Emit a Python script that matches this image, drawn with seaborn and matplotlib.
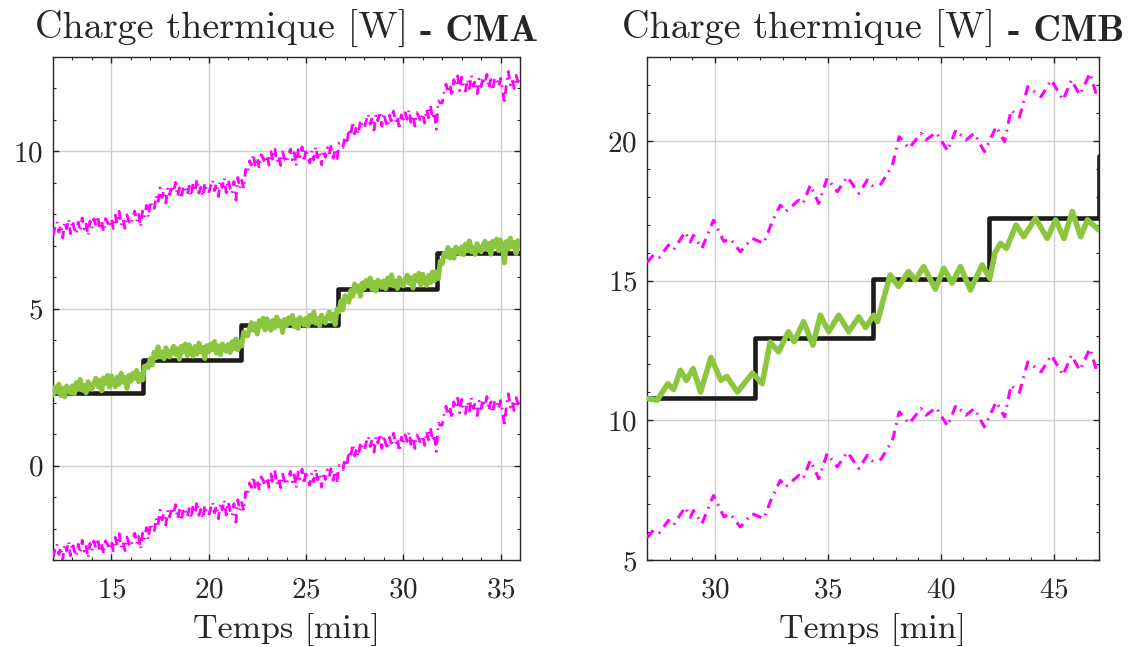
import numpy as np
import pandas as pd
import matplotlib
matplotlib.use("Agg")
import matplotlib.pyplot as plt
import seaborn as sns

# ---------------- DATA ----------------
# Left panel (CMA): time grid 12..36 min, 0.1 min sampling
cma_t = np.round(np.arange(12.0, 36.0001, 0.1), 2)

cma_estimate = [
    2.25, 2.50, 2.34, 2.59, 2.23, 2.46, 2.19, 2.53, 2.45, 2.31,
    2.54, 2.29, 2.64, 2.43, 2.74, 2.40, 2.55, 2.32, 2.67, 2.50,
    2.43, 2.63, 2.78, 2.52, 2.71, 2.38, 2.79, 2.62, 2.87, 2.50,
    2.86, 2.64, 2.51, 2.82, 2.59, 2.94, 2.66, 2.81, 2.46, 2.87,
    2.69, 2.94, 2.78, 3.03, 2.67, 2.90, 2.73, 3.16, 3.17, 3.12,
    3.40, 3.21, 3.61, 3.44, 3.78, 3.46, 3.62, 3.40, 3.75, 3.58,
    3.46, 3.66, 3.80, 3.54, 3.72, 3.39, 3.80, 3.62, 3.87, 3.50,
    3.84, 3.62, 3.48, 3.79, 3.55, 3.90, 3.62, 3.76, 3.41, 3.82,
    3.62, 3.87, 3.70, 3.95, 3.58, 3.81, 3.53, 3.87, 3.78, 3.64,
    3.85, 3.60, 3.94, 3.73, 4.03, 3.69, 3.93, 3.81, 4.25, 4.15,
    4.13, 4.37, 4.55, 4.31, 4.51, 4.19, 4.61, 4.44, 4.69, 4.32,
    4.67, 4.45, 4.31, 4.62, 4.39, 4.73, 4.45, 4.60, 4.24, 4.65,
    4.45, 4.70, 4.53, 4.78, 4.42, 4.64, 4.37, 4.71, 4.62, 4.48,
    4.69, 4.44, 4.78, 4.57, 4.88, 4.53, 4.68, 4.45, 4.79, 4.62,
    4.54, 4.74, 4.89, 4.63, 4.82, 4.49, 4.98, 4.90, 5.24, 4.96,
    5.40, 5.26, 5.20, 5.57, 5.39, 5.78, 5.54, 5.72, 5.39, 5.82,
    5.64, 5.89, 5.72, 5.97, 5.61, 5.83, 5.56, 5.90, 5.81, 5.67,
    5.88, 5.63, 5.97, 5.76, 6.07, 5.72, 5.87, 5.64, 5.98, 5.81,
    5.72, 5.92, 6.06, 5.80, 5.98, 5.65, 6.05, 5.88, 6.12, 5.75,
    6.09, 5.87, 5.74, 6.05, 5.82, 6.16, 5.88, 6.16, 5.95, 6.50,
    6.42, 6.75, 6.65, 6.94, 6.61, 6.86, 6.60, 6.95, 6.88, 6.74,
    6.96, 6.71, 7.05, 6.84, 7.15, 6.80, 6.95, 6.72, 7.06, 6.89,
    6.80, 7.00, 7.14, 6.88, 7.07, 6.73, 7.14, 6.97, 7.21, 6.84,
    7.18, 6.96, 6.45, 7.13, 6.90, 7.24, 6.96, 7.11, 6.75, 7.16,
    7.10,
]

cma_upper = [
    7.32, 7.57, 7.76, 7.43, 7.66, 7.25, 7.75, 7.54, 7.85, 7.38,
    7.80, 7.53, 7.36, 7.75, 7.46, 7.88, 7.53, 7.72, 7.31, 7.78,
    7.54, 7.85, 7.64, 7.95, 7.50, 7.78, 7.43, 7.86, 7.75, 7.58,
    7.85, 7.54, 7.97, 7.70, 8.09, 7.65, 7.84, 7.55, 7.98, 7.77,
    7.66, 7.91, 8.10, 7.77, 8.00, 7.59, 8.10, 7.90, 8.28, 7.90,
    8.42, 8.24, 8.14, 8.59, 8.36, 8.84, 8.53, 8.75, 8.36, 8.84,
    8.62, 8.92, 8.71, 9.01, 8.56, 8.84, 8.49, 8.91, 8.80, 8.62,
    8.89, 8.57, 9.00, 8.72, 9.11, 8.67, 8.86, 8.56, 8.99, 8.77,
    8.66, 8.90, 9.09, 8.75, 8.98, 8.56, 9.07, 8.85, 9.16, 8.68,
    9.10, 8.83, 8.65, 9.04, 8.45, 9.17, 8.81, 9.08, 8.81, 9.42,
    9.30, 9.70, 9.56, 9.91, 9.49, 9.80, 9.46, 9.89, 9.78, 9.61,
    9.88, 9.56, 9.99, 9.71, 10.10, 9.66, 9.85, 9.55, 9.98, 9.76,
    9.64, 9.88, 10.07, 9.73, 9.96, 9.54, 10.05, 9.83, 10.14, 9.66,
    10.08, 9.81, 9.63, 10.02, 9.73, 10.15, 9.80, 9.98, 9.57, 10.04,
    9.81, 10.12, 9.91, 10.22, 9.78, 10.08, 9.77, 10.26, 10.22, 10.12,
    10.46, 10.22, 10.71, 10.50, 10.94, 10.56, 10.79, 10.54, 11.00, 10.82,
    10.73, 10.99, 11.19, 10.86, 11.09, 10.68, 11.18, 10.97, 11.27, 10.80,
    11.22, 10.94, 10.77, 11.15, 10.86, 11.28, 10.93, 11.11, 10.70, 11.16,
    10.92, 11.23, 11.02, 11.32, 10.87, 11.15, 10.80, 11.23, 11.11, 10.94,
    11.21, 10.90, 11.34, 11.07, 11.47, 11.04, 11.24, 10.70, 11.61, 11.54,
    11.54, 11.88, 12.14, 11.86, 12.13, 11.75, 12.28, 12.08, 12.40, 11.93,
    12.36, 12.08, 11.91, 12.29, 12.00, 12.42, 12.07, 12.25, 11.84, 12.30,
    12.06, 12.36, 12.15, 12.45, 12.00, 12.28, 11.93, 12.35, 12.24, 12.06,
    12.32, 12.01, 11.50, 12.16, 12.54, 12.11, 12.29, 12.00, 12.42, 12.21,
    12.40,
]

cma_lower = [
    -2.93, -2.68, -2.49, -2.82, -2.59, -3.00, -2.50, -2.71, -2.40, -2.87,
    -2.45, -2.72, -2.89, -2.50, -2.79, -2.37, -2.72, -2.53, -2.94, -2.47,
    -2.71, -2.40, -2.61, -2.30, -2.75, -2.47, -2.82, -2.39, -2.50, -2.67,
    -2.40, -2.71, -2.28, -2.55, -2.16, -2.60, -2.41, -2.70, -2.27, -2.48,
    -2.59, -2.34, -2.15, -2.48, -2.25, -2.66, -2.15, -2.35, -1.97, -2.35,
    -1.83, -2.01, -2.11, -1.66, -1.89, -1.41, -1.72, -1.50, -1.89, -1.41,
    -1.63, -1.33, -1.54, -1.24, -1.69, -1.41, -1.76, -1.34, -1.45, -1.63,
    -1.36, -1.68, -1.25, -1.53, -1.14, -1.58, -1.39, -1.69, -1.26, -1.48,
    -1.59, -1.35, -1.16, -1.50, -1.27, -1.69, -1.18, -1.40, -1.09, -1.57,
    -1.15, -1.42, -1.60, -1.21, -1.80, -1.08, -1.44, -1.17, -1.44, -0.83,
    -0.95, -0.55, -0.69, -0.34, -0.76, -0.45, -0.79, -0.36, -0.47, -0.64,
    -0.37, -0.69, -0.26, -0.54, -0.15, -0.59, -0.40, -0.70, -0.27, -0.49,
    -0.61, -0.37, -0.18, -0.52, -0.29, -0.71, -0.20, -0.42, -0.11, -0.59,
    -0.17, -0.44, -0.62, -0.23, -0.52, -0.10, -0.45, -0.27, -0.68, -0.21,
    -0.44, -0.13, -0.34, -0.03, -0.47, -0.17, -0.48, 0.01, -0.03, -0.13,
    0.21, -0.03, 0.46, 0.25, 0.69, 0.31, 0.54, 0.29, 0.75, 0.57,
    0.48, 0.74, 0.94, 0.61, 0.84, 0.43, 0.93, 0.72, 1.02, 0.55,
    0.97, 0.69, 0.52, 0.90, 0.61, 1.03, 0.68, 0.86, 0.45, 0.91,
    0.67, 0.98, 0.77, 1.07, 0.62, 0.90, 0.55, 0.98, 0.86, 0.69,
    0.96, 0.65, 1.09, 0.82, 1.22, 0.79, 0.99, 0.45, 1.36, 1.29,
    1.29, 1.63, 1.89, 1.61, 1.88, 1.50, 2.03, 1.83, 2.15, 1.68,
    2.11, 1.83, 1.66, 2.04, 1.75, 2.17, 1.82, 2.00, 1.59, 2.05,
    1.81, 2.11, 1.90, 2.20, 1.75, 2.03, 1.68, 2.10, 1.99, 1.81,
    2.07, 1.76, 1.25, 1.91, 2.29, 1.86, 2.04, 1.75, 2.17, 1.96,
    2.15,
]

cma_step_t = [12.0, 16.6, 21.65, 26.65, 31.75, 36.0]
cma_step_q = [2.30, 3.35, 4.47, 5.62, 6.77, 6.77]

# Right panel (CMB)
cmb_step_t = [27.0, 31.8, 37.0, 42.15, 47.0]
cmb_step_q = [10.78, 12.95, 15.07, 17.23, 19.44]

cmb_est_t = [27.00, 27.45, 27.92, 28.18, 28.48, 28.74, 29.04, 29.37, 29.83, 30.27,
             30.53, 31.00, 31.67, 32.10, 32.45, 32.82, 33.26, 33.51, 33.93, 34.34,
             34.67, 35.04, 35.48, 35.93, 36.37, 36.67, 37.04, 37.20, 37.45, 37.76,
             38.13, 38.57, 38.87, 39.24, 39.76, 40.13, 40.50, 40.87, 41.31, 41.83,
             42.17, 42.40, 42.64, 42.90, 43.33, 43.67, 44.19, 44.71, 45.08, 45.45,
             45.82, 46.19, 46.49, 47.00]
cmb_est_q = [10.78, 10.72, 11.31, 11.10, 11.79, 11.43, 11.85, 11.01, 12.25, 11.43,
             11.57, 11.01, 11.69, 11.31, 12.80, 12.45, 13.17, 12.81, 13.53, 12.69,
             13.76, 13.17, 13.76, 13.17, 13.70, 13.32, 13.76, 13.53, 14.30, 15.20,
             14.79, 15.32, 15.02, 15.50, 14.69, 15.44, 14.91, 15.50, 14.66, 15.56,
             15.08, 16.00, 16.33, 16.15, 16.99, 16.57, 17.23, 16.51, 17.17, 16.51,
             17.47, 16.57, 17.17, 16.81]

cmb_bound_t = [27.00, 27.30, 27.55, 27.95, 28.17, 28.69, 28.91, 29.06, 29.43, 29.94,
               30.40, 30.68, 31.13, 31.65, 32.16, 32.54, 32.90, 33.12, 33.72, 33.90,
               34.23, 34.60, 34.97, 35.42, 35.86, 36.38, 36.75, 36.95, 37.35, 37.86,
               38.16, 38.60, 39.12, 39.34, 39.80, 40.30, 40.67, 41.11, 41.48, 41.93,
               42.45, 42.82, 43.11, 43.48, 43.85, 44.44, 44.89, 45.41, 45.78, 46.15,
               46.60, 46.89, 47.00]
cmb_lower = [5.80, 6.08, 5.98, 6.42, 6.24, 6.89, 6.53, 6.77, 6.30, 7.31,
             6.55, 6.65, 6.18, 6.66, 6.48, 7.25, 7.85, 7.61, 8.03, 7.90,
             8.57, 7.91, 8.81, 8.33, 8.86, 8.27, 8.75, 8.55, 8.60, 9.28,
             10.30, 9.88, 10.42, 10.18, 10.45, 9.79, 10.54, 10.18, 10.42, 9.76,
             10.66, 10.12, 11.25, 11.00, 12.09, 11.73, 12.33, 11.61, 12.33, 11.79,
             12.57, 11.79, 11.95]
cmb_upper = [15.65, 15.93, 15.83, 16.27, 16.09, 16.74, 16.38, 16.62, 16.15, 17.16,
             16.40, 16.50, 16.03, 16.51, 16.33, 17.10, 17.70, 17.46, 17.88, 17.75,
             18.42, 17.76, 18.66, 18.18, 18.71, 18.12, 18.60, 18.40, 18.45, 19.13,
             20.15, 19.73, 20.27, 20.03, 20.30, 19.64, 20.39, 20.03, 20.27, 19.61,
             20.51, 19.97, 21.10, 20.85, 21.94, 21.58, 22.18, 21.46, 22.18, 21.64,
             22.42, 21.64, 21.80]

titles_normal = ["Charge thermique [W] ", "Charge thermique [W] "]
titles_bold = ["- CMA", "- CMB"]
xlabel_text = "Temps [min]"

# ---------------- STYLE ----------------
sns.set_theme(style="white")
plt.rcParams.update({
    "font.family": "cmr10",
    "mathtext.fontset": "cm",
    "axes.formatter.use_mathtext": True,
    "axes.unicode_minus": False,
    "axes.edgecolor": "#262626",
    "axes.linewidth": 1.0,
    "xtick.color": "#262626",
    "ytick.color": "#262626",
    "text.color": "#262626",
    "axes.labelcolor": "#262626",
})

MAGENTA = "#ff00ff"
GREEN = "#8cc63e"
BLACK = "#1c1c1c"
DASHDOT = (0, (3.2, 2.0, 0.6, 2.0))

W, H = 1135, 647
fig = plt.figure(figsize=(W / 100, H / 100), dpi=100)
ax1 = fig.add_axes([53 / W, (H - 560) / H, 467 / W, 503 / H])
ax2 = fig.add_axes([647 / W, (H - 560) / H, 452 / W, 503 / H])

TICK_FS = 21
LABEL_FS = 24.5
TITLE_FS = 27.5

# Left
sns.lineplot(x=cma_step_t, y=cma_step_q, ax=ax1, color=BLACK, linewidth=3.3,
             drawstyle="steps-post", sort=False, zorder=2)
sns.lineplot(x=cma_t, y=cma_estimate, ax=ax1, color=GREEN, linewidth=3.6,
             sort=False, zorder=3, solid_joinstyle="round")
sns.lineplot(x=cma_t, y=cma_upper, ax=ax1, color=MAGENTA, linewidth=2.0,
             linestyle=DASHDOT, sort=False, zorder=4)
sns.lineplot(x=cma_t, y=cma_lower, ax=ax1, color=MAGENTA, linewidth=2.0,
             linestyle=DASHDOT, sort=False, zorder=4)
ax1.set_xlim(12, 36)
ax1.set_ylim(-3, 13)
ax1.set_xticks([15, 20, 25, 30, 35])
ax1.set_yticks([0, 5, 10])
ax1.set_xticks(np.arange(12, 36.5, 1), minor=True)
ax1.set_yticks(np.arange(-3, 13.5, 1), minor=True)

# Right
sns.lineplot(x=cmb_step_t, y=cmb_step_q, ax=ax2, color=BLACK, linewidth=3.3,
             drawstyle="steps-post", sort=False, zorder=2)
sns.lineplot(x=cmb_est_t, y=cmb_est_q, ax=ax2, color=GREEN, linewidth=4.0,
             sort=False, zorder=3, solid_joinstyle="round")
sns.lineplot(x=cmb_bound_t, y=cmb_upper, ax=ax2, color=MAGENTA, linewidth=2.2,
             linestyle=DASHDOT, sort=False, zorder=4)
sns.lineplot(x=cmb_bound_t, y=cmb_lower, ax=ax2, color=MAGENTA, linewidth=2.2,
             linestyle=DASHDOT, sort=False, zorder=4)
ax2.set_xlim(27, 47)
ax2.set_ylim(5, 23)
ax2.set_xticks([30, 35, 40, 45])
ax2.set_yticks([5, 10, 15, 20])
ax2.set_xticks(np.arange(27, 47.5, 1), minor=True)
ax2.set_yticks(np.arange(5, 23.5, 1), minor=True)

for ax in (ax1, ax2):
    ax.grid(True, which="major", color="#cfcfcf", linewidth=1.0, zorder=0)
    ax.set_axisbelow(True)
    ax.tick_params(which="both", direction="in", top=True, right=True,
                   bottom=True, left=True)
    ax.tick_params(which="major", length=4, width=1.0, labelsize=TICK_FS)
    ax.tick_params(axis="x", which="major", pad=12)
    ax.tick_params(axis="y", which="major", pad=7)
    ax.tick_params(which="minor", length=2.2, width=0.8)
    ax.set_xlabel(xlabel_text, fontsize=LABEL_FS, labelpad=7)
    ax.set_ylabel("")
    for s in ax.spines.values():
        s.set_visible(True)

# Titles with bold part
fig.canvas.draw()
renderer = fig.canvas.get_renderer()
for ax, tn, tb in zip((ax1, ax2), titles_normal, titles_bold):
    t1 = ax.text(0.5, 1.0 + 18 / 503, tn, transform=ax.transAxes, ha="left",
                 va="baseline", fontsize=TITLE_FS, family="cmr10")
    t2 = ax.annotate(tb, xy=(1, 0), xycoords=t1, ha="left", va="bottom",
                     fontsize=TITLE_FS, family="cmb10")
    fig.canvas.draw()
    b1 = t1.get_window_extent(renderer)
    b2 = t2.get_window_extent(renderer)
    total = b2.x1 - b1.x0
    axb = ax.get_window_extent(renderer)
    center = (axb.x0 + axb.x1) / 2
    x0 = center - total / 2
    xf = (x0 - axb.x0) / axb.width
    t1.set_x(xf)

fig.savefig("out.png", dpi=100)
